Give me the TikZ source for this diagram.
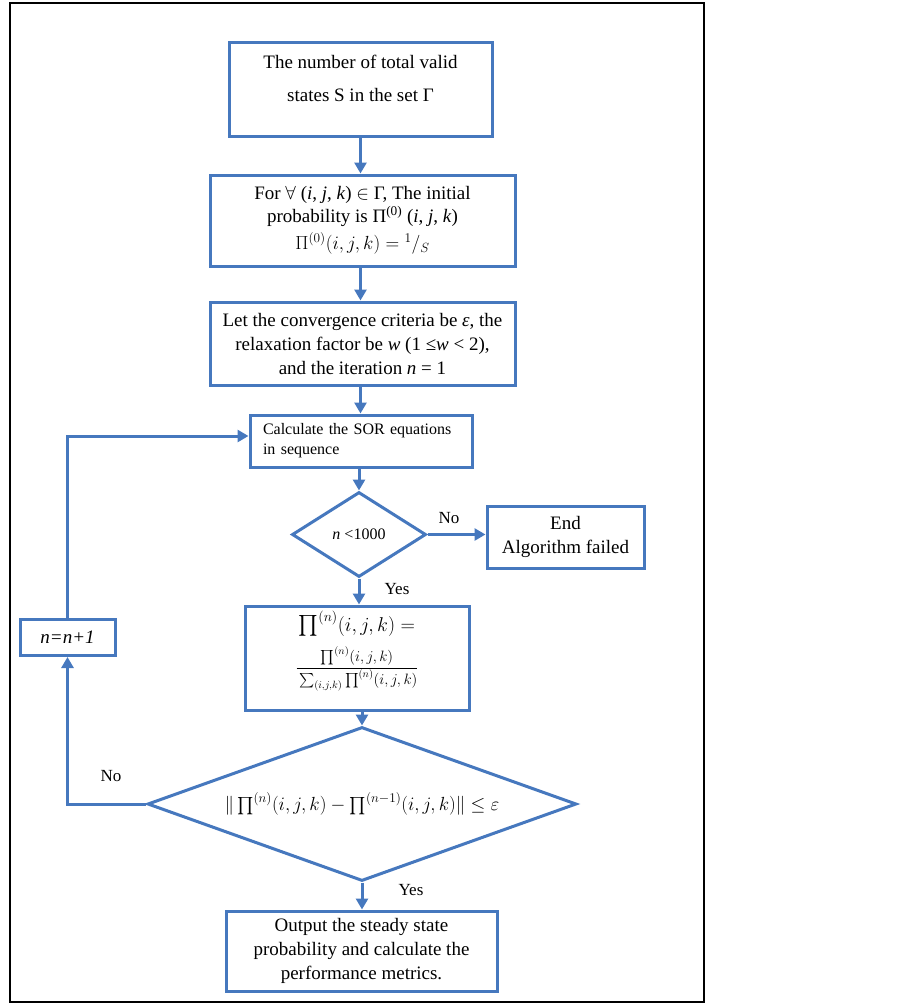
\documentclass[tikz,border=0pt]{standalone}
\usepackage{fix-cm}
\usepackage{amsmath}
\usepackage{fontspec}
\setmainfont{Liberation Serif}
\usetikzlibrary{shapes.geometric,arrows.meta}
\definecolor{fblue}{RGB}{70,120,190}
\begin{document}
\begin{tikzpicture}[x=1pt,y=-1pt,
 box/.style={draw=fblue,line width=3pt,rectangle,inner sep=0pt,align=center,font=\fontsize{19}{24}\selectfont},
 txt/.style={inner sep=0pt,align=center,font=\fontsize{19}{24}\selectfont},
 dia/.style={draw=fblue,line width=3pt,diamond,inner sep=0pt,font=\fontsize{19}{24}\selectfont},
 arr/.style={draw=fblue,line width=3pt,-{Triangle[length=11pt,width=12pt]}},
 lbl/.style={inner sep=0pt,font=\fontsize{17}{20}\selectfont}
]
\useasboundingbox (0,0) rectangle (903,1004);
\node[draw=black,line width=2.2pt,minimum width=694pt,minimum height=999pt,inner sep=0pt] (frame) at (357,502.5) {};

% boxes
\node[box,minimum width=263pt,minimum height=94pt] (b1) at (360.5,89.5) {};
\node[txt,font=\fontsize{19}{33}\selectfont] (t1) at (360.5,78) {The number of total valid\\states S in the set Γ};

\node[box,minimum width=305pt,minimum height=91pt,font=\fontsize{19}{23}\selectfont] (b2) at (362.5,220.5)
 {For $\forall$ (\textit{i}, \textit{j}, \textit{k}) $\in$ Γ, The initial\\
  probability is Π\textsuperscript{(0)} (\textit{i}, \textit{j}, \textit{k})\\[4pt]
  $\Pi^{(0)}(i,j,k) = {}^{1}/_{S}$};

\node[box,minimum width=305pt,minimum height=83pt] (b3) at (362.5,343.5)
 {Let the convergence criteria be \textit{ε}, the\\
  relaxation factor be \textit{w} (1 ≤\textit{w} {<} 2),\\
  and the iteration \textit{n} = 1};

\node[box,minimum width=222pt,minimum height=52pt,align=left,text width=196pt,font=\fontsize{16}{20}\selectfont] (b4) at (361,441)
 {Calculate the SOR equations\\in sequence};

\node[dia,aspect=1.58,minimum width=134pt,minimum height=85pt,font=\fontsize{16}{20}\selectfont] (d1) at (359,534.5) {\textit{n} {<}1000};

\node[box,minimum width=157pt,minimum height=62pt] (end) at (565.5,537) {End\\Algorithm failed};

\node[box,minimum width=224pt,minimum height=104pt] (b5) at (357,658) {};
\node[txt,font=\fontsize{20}{26}\selectfont] (t5) at (357,651)
 {$\prod\nolimits^{(n)}(i,j,k) =$\\[9pt]
  {\fontsize{15}{18}\selectfont$\dfrac{\prod\nolimits^{(n)}(i,j,k)\rule[-3pt]{0pt}{3pt}}{\rule{0pt}{12pt}\sum\nolimits_{(i,j,k)}\prod\nolimits^{(n)}(i,j,k)}$}};

\node[box,minimum width=95pt,minimum height=36pt] (nb) at (67.5,637.5) {\textit{n=n+1}};

\node[dia,aspect=2.8,minimum width=429pt,minimum height=154pt,font=\fontsize{19}{24}\selectfont] (d2) at (362,804)
 {$\|\prod\nolimits^{(n)}(i,j,k)-\prod\nolimits^{(n-1)}(i,j,k)\| \le \varepsilon$};

\node[box,minimum width=271pt,minimum height=80pt] (b6) at (361.5,951)
 {Output the steady state\\probability and calculate the\\performance metrics.};

% connectors
\draw[arr] (b1.south) -- (b1.south |- b2.north);
\draw[arr] (b2.south -| b1.south) -- (b1.south |- b3.north);
\draw[arr] (b3.south -| b1.south) -- (b1.south |- b4.north);
\draw[arr] (b4.south -| d1.north) -- (d1.north);
\draw[arr] (d1.east) -- (d1.east -| end.west);
\draw[arr] (d1.south) -- (d1.south |- b5.north);
\draw[arr] (b5.south -| d2.north) -- (d2.north);
\draw[arr] (d2.south) -- (d2.south |- b6.north);
\draw[arr] (d2.west) -| (nb.south);
\coordinate (sorin) at ([yshift=5pt]b4.west);
\draw[arr] (nb.north) |- (sorin);

% labels
\node[lbl] (lno1) at (449,518) {No};
\node[lbl] (lyes1) at (397,589) {Yes};
\node[lbl] (lyes2) at (411,890) {Yes};
\node[lbl] (lno2) at (111,776) {No};
\end{tikzpicture}
\end{document}
